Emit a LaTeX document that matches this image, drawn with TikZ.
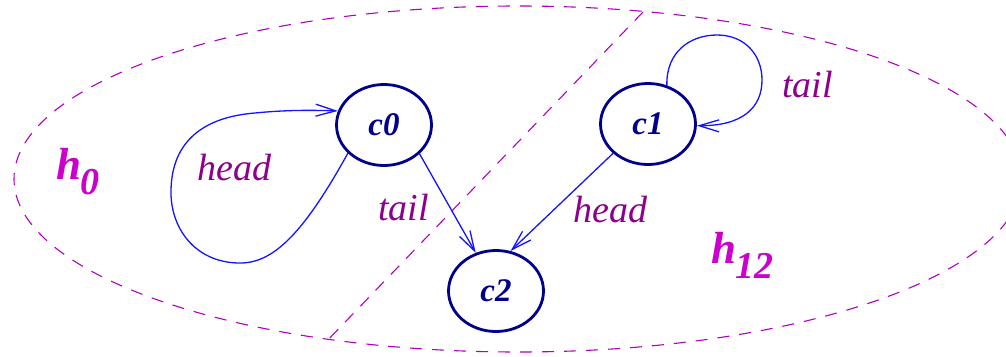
\documentclass[tikz,border=0pt]{standalone}
\usepackage{fontspec}
\setmainfont{Liberation Serif}
\usetikzlibrary{arrows.meta,shapes.geometric}
\definecolor{nodecol}{RGB}{0,0,140}
\definecolor{edgecol}{RGB}{20,20,255}
\definecolor{labcol}{RGB}{140,0,140}
\definecolor{hcol}{RGB}{204,0,204}
\definecolor{dashcol}{RGB}{176,0,192}
\begin{document}
\begin{tikzpicture}[x=1pt,y=-1pt,
  state/.style={ellipse, draw=nodecol, line width=2.8pt, minimum width=95pt,
    minimum height=81pt, inner sep=0pt, text=nodecol,
    font=\fontsize{33}{39}\selectfont\bfseries\itshape},
  edge/.style={draw=edgecol, line width=1.3pt,
    -{Straight Barb[length=20pt,width=12pt]}},
  lab/.style={text=labcol, font=\fontsize{38}{44}\selectfont\itshape,
    inner sep=0pt, anchor=base west},
  hlab/.style={text=hcol, font=\fontsize{45}{50}\selectfont\bfseries\itshape,
    inner sep=0pt, anchor=base west},
  dashline/.style={draw=dashcol, line width=1.1pt, dash pattern=on 12pt off 10pt}]
\useasboundingbox (0,0) rectangle (1006,356);
% outer region and separator
\draw[dashline] (518,179) ellipse [x radius=504, y radius=173];
\coordinate (sepA) at (643,12);
\coordinate (sepB) at (325,343);
\draw[dashline] (sepA) -- (sepB);
% states
\node[state] (c0) at (384,125) {c0};
\node[state] (c1) at (648,124) {c1};
\node[state] (c2) at (496,291) {c2};
% transitions
\draw[edge] (c0.218) .. controls (300,240) and (270,264) .. (238,263)
  .. controls (195,262) and (170,228) .. (171,190)
  .. controls (172,140) and (205,117) .. (255,113)
  .. controls (285,110) and (310,110) .. (c0.163);
\draw[edge] (c1.64) .. controls (666,52) and (690,35) .. (717,35)
  .. controls (745,35) and (762,55) .. (762,80)
  .. controls (762,108) and (742,126) .. (c1.-2);
\draw[edge] (c0.-39) -- (c2.118);
\draw[edge] (c1.220) -- (c2.70);
% labels
\node[lab] (l1) at (197,180) {head};
\node[lab] (l2) at (378,220) {tail};
\node[lab] (l3) at (573,222) {head};
\node[lab] (l4) at (782,97) {tail};
\node[hlab] (h0) at (56,179) {h\kern-1pt\raisebox{-15pt}{\fontsize{38}{42}\selectfont 0}};
\node[hlab] (h12) at (711,263) {h\kern-1pt\raisebox{-15pt}{\fontsize{38}{42}\selectfont 12}};
\end{tikzpicture}
\end{document}
